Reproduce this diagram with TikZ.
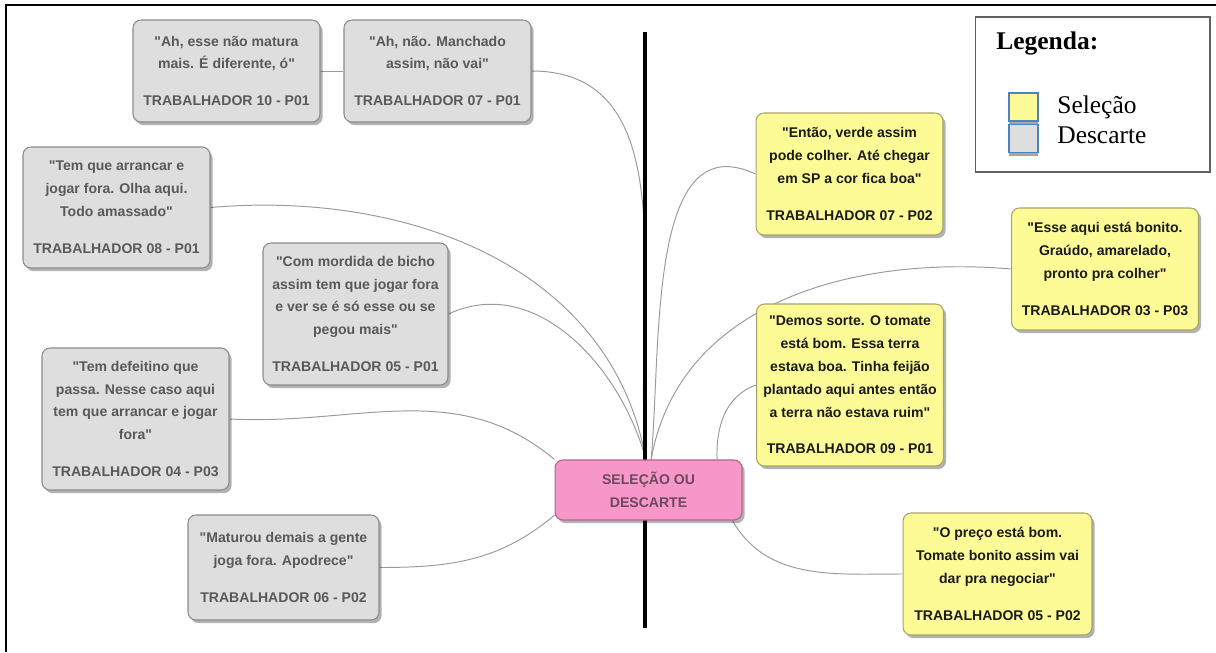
\documentclass[tikz,border=0pt]{standalone}
\usepackage{fontspec}
\setmainfont{Liberation Serif}
\newfontfamily\caixafont{Liberation Sans}
\usepackage{xcolor}
\usepackage{tikz}
\usetikzlibrary{shadows, backgrounds}
\definecolor{descfundo}{HTML}{DEDEDE}
\definecolor{descborda}{HTML}{8C8C8C}
\definecolor{desctexto}{HTML}{595959}
\definecolor{selfundo}{HTML}{FDFB95}
\definecolor{selborda}{HTML}{A5A46C}
\definecolor{seltexto}{HTML}{1A1A1A}
\definecolor{hubfundo}{HTML}{F796C8}
\definecolor{hubborda}{HTML}{B5648C}
\definecolor{hubtexto}{HTML}{6A4A5C}
\definecolor{ramocor}{HTML}{9A9A9A}
\definecolor{legborda}{HTML}{606060}
\definecolor{azulq}{HTML}{4F81BD}
\def\trab#1{\\[8pt]TRABALHADOR #1}

\begin{document}
\begin{tikzpicture}[x=0.02cm, y=-0.02cm,
    caixa/.style={rectangle, rounded corners=4.5pt, align=center, minimum width=3.74cm, inner sep=2pt,
      line width=0.6pt, font=\caixafont\bfseries\fontsize{8}{13}\selectfont,
      drop shadow={shadow xshift=1.5pt, shadow yshift=-1.8pt, opacity=0.3, fill=black}},
    descarte/.style={caixa, draw=descborda, fill=descfundo, text=desctexto},
    selecao/.style={caixa, draw=selborda, fill=selfundo, text=seltexto},
    ramo/.style={draw=ramocor, line width=0.55pt},
    quadro/.style={draw=azulq, line width=1pt, minimum width=0.58cm, minimum height=0.56cm, inner sep=0pt,
      drop shadow={shadow xshift=0pt, shadow yshift=-2.2pt, opacity=1, fill=black!35}},
    legtexto/.style={anchor=base west, inner sep=0pt, font=\fontsize{14.5}{17}\selectfont}]
          \useasboundingbox (0,0) rectangle (1216,652);
          \coordinate (c1) at (6,652);
          \coordinate (c2) at (6,5);
          \coordinate (c3) at (1216,5);
          \draw[line width=1.3pt] (c1) -- (c2) -- (c3);

          \node[caixa, draw=hubborda, fill=hubfundo, text=hubtexto, minimum height=1.2cm] (hub) at (648.5,490) {SELEÇÃO OU\\DESCARTE};

          \node[descarte, minimum height=2.04cm] (t10p01) at (226.5,71) {"Ah, esse não matura\\mais. É diferente, ó"\trab{10 - P01}};
          \node[descarte, minimum height=2.04cm] (t07p01) at (437.5,71) {"Ah, não. Manchado\\assim, não vai"\trab{07 - P01}};
          \node[descarte, minimum height=2.42cm] (t08p01) at (116.5,207.5) {"Tem que arrancar e\\jogar fora. Olha aqui.\\Todo amassado"\trab{08 - P01}};
          \node[descarte, minimum height=2.84cm, minimum width=3.7cm] (t05p01) at (355.5,314) {"Com mordida de bicho\\assim tem que jogar fora\\e ver se é só esse ou se\\pegou mais"\trab{05 - P01}};
          \node[descarte, minimum height=2.84cm] (t04p03) at (135.5,419) {"Tem defeitino que\\passa. Nesse caso aqui\\tem que arrancar e jogar\\fora"\trab{04 - P03}};
          \node[descarte, minimum height=2.1cm, minimum width=3.82cm] (t06p02) at (283.5,567.5) {"Maturou demais a gente\\joga fora. Apodrece"\trab{06 - P02}};

          \node[selecao, minimum height=2.44cm] (t07p02) at (849.5,174) {"Então, verde assim\\pode colher. Até chegar\\em SP a cor fica boa"\trab{07 - P02}};
          \node[selecao, minimum height=2.44cm] (t03p03) at (1105,269) {"Esse aqui está bonito.\\Graúdo, amarelado,\\pronto pra colher"\trab{03 - P03}};
          \node[selecao, minimum height=3.24cm] (t09p01) at (850,385) {"Demos sorte. O tomate\\está bom. Essa terra\\estava boa. Tinha feijão\\plantado aqui antes então\\a terra não estava ruim"\trab{09 - P01}};
          \node[selecao, minimum height=2.44cm, minimum width=3.78cm] (t05p02) at (997.5,574) {"O preço está bom.\\Tomate bonito assim vai\\dar pra negociar"\trab{05 - P02}};

          \coordinate (topo) at (645,32);
          \coordinate (base) at (645,628);
          \begin{scope}[on background layer]
            \draw[ramo] (t10p01.east) -- (t07p01.west);
            \draw[ramo] (hub.95) to[out=95,in=0] (t07p01.east);
            \draw[ramo] (hub.95) to[out=100,in=5] (t08p01.east);
            \draw[ramo] (hub.95) to[out=105,in=25] (t05p01.east);
            \draw[ramo] (hub.north west) to[out=140,in=-3] (t04p03.east);
            \draw[ramo] (hub.195) to[out=220,in=0] (t06p02.east);
            \draw[ramo] (hub.85) to[out=85,in=155] (t07p02.west);
            \draw[ramo] (hub.85) to[out=80,in=175] (t03p03.west);
            \draw[ramo] (hub.24) to[out=92,in=200] (t09p01.west);
            \draw[ramo] (hub.-20) to[out=-60,in=180] (t05p02.west);
            \draw[line width=2.8pt] (topo) -- (base);
          \end{scope}

          \node[draw=legborda, line width=0.6pt, minimum width=4.7cm, minimum height=3.1cm] (legenda) at (1092.5,94.5) {};
          \node[legtexto, font=\bfseries\fontsize{14.5}{17}\selectfont] (legtit) at (996,50) {Legenda:};
          \node[quadro, fill=selfundo] (qsel) at (1023.5,107) {};
          \node[quadro, fill=descfundo] (qdesc) at (1023.5,138.5) {};
          \node[legtexto] (lsel) at (1057,113) {Seleção};
          \node[legtexto] (ldesc) at (1057,143) {Descarte};
        \end{tikzpicture}
\end{document}
